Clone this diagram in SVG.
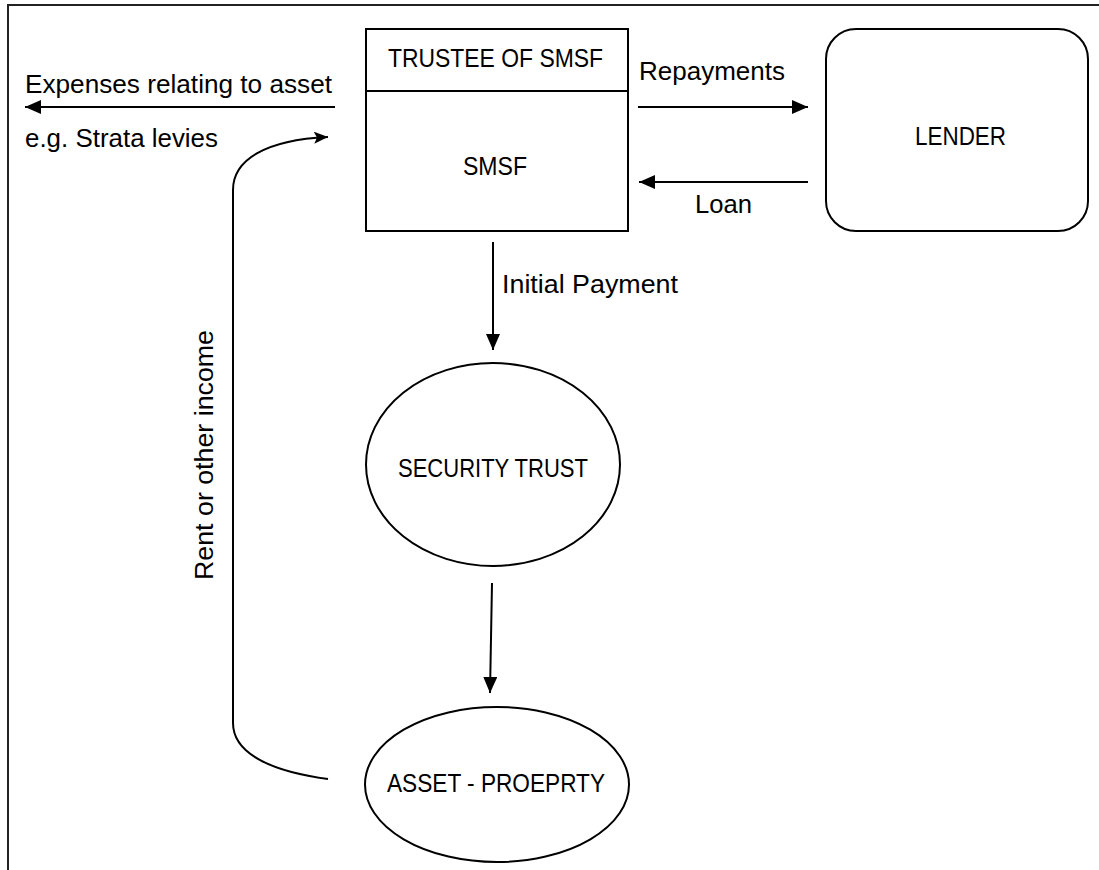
<svg xmlns="http://www.w3.org/2000/svg" width="1099" height="870" viewBox="0 0 1099 870">
<style>
text{font-family:"Liberation Sans",Arial,sans-serif;font-size:25px;fill:#000}
.shape{fill:#fff;stroke:#000;stroke-width:2}
.conn{fill:none;stroke:#000;stroke-width:2}
</style>
<defs>
<marker id="arr" markerWidth="16" markerHeight="14" refX="16" refY="7" orient="auto" markerUnits="userSpaceOnUse">
<path d="M0,0 L16,7 L0,14 Z" fill="#000"/>
</marker>
<marker id="arr2" markerWidth="14" markerHeight="12" refX="14" refY="6" orient="auto" markerUnits="userSpaceOnUse">
<path d="M0,0 L14,6 L0,12 L3,6 Z" fill="#000"/>
</marker>
</defs>
<rect width="1099" height="870" fill="#fff"/>
<g id="frame">
<path d="M8,870 L8,5 L1099,5" fill="none" stroke="#222" stroke-width="2"/>
</g>
<g id="smsf">
<rect class="shape" x="366" y="29" width="262" height="202"/>
<line x1="366" y1="91" x2="628" y2="91" stroke="#000" stroke-width="2"/>
<text x="388" y="67" textLength="215" lengthAdjust="spacingAndGlyphs">TRUSTEE OF SMSF</text>
<text x="463" y="175" textLength="64" lengthAdjust="spacingAndGlyphs">SMSF</text>
</g>
<g id="lender">
<rect class="shape" x="826" y="29" width="262" height="202" rx="30" ry="30"/>
<text x="915" y="145" textLength="91" lengthAdjust="spacingAndGlyphs">LENDER</text>
</g>
<g id="security-trust">
<ellipse class="shape" cx="493" cy="464.5" rx="127" ry="101.5"/>
<text x="398" y="477" textLength="190" lengthAdjust="spacingAndGlyphs">SECURITY TRUST</text>
</g>
<g id="asset">
<ellipse class="shape" cx="497" cy="784.5" rx="132" ry="77.5"/>
<text x="387" y="792" textLength="218" lengthAdjust="spacingAndGlyphs">ASSET - PROEPRTY</text>
</g>
<g id="connectors">
<line class="conn" x1="335" y1="107" x2="25" y2="107" marker-end="url(#arr)"/>
<line class="conn" x1="638" y1="107" x2="808" y2="107" marker-end="url(#arr)"/>
<line class="conn" x1="808" y1="182" x2="639" y2="182" marker-end="url(#arr)"/>
<line class="conn" x1="493" y1="242" x2="493" y2="350" marker-end="url(#arr)"/>
<line class="conn" x1="492" y1="583" x2="490" y2="693" marker-end="url(#arr)"/>
<path class="conn" d="M328,779 C275,772 233,755 233,723 L233,190 C233,160 265,140 328,137" marker-end="url(#arr2)"/>
</g>
<g id="labels">
<text x="25" y="93" textLength="307" lengthAdjust="spacingAndGlyphs">Expenses relating to asset</text>
<text x="25" y="147" textLength="193" lengthAdjust="spacingAndGlyphs">e.g. Strata levies</text>
<text x="639" y="80" textLength="146" lengthAdjust="spacingAndGlyphs">Repayments</text>
<text x="695" y="213" textLength="57" lengthAdjust="spacingAndGlyphs">Loan</text>
<text x="502" y="293" textLength="176" lengthAdjust="spacingAndGlyphs">Initial Payment</text>
<text transform="translate(213,580) rotate(-90)" x="0" y="0" textLength="250" lengthAdjust="spacingAndGlyphs">Rent or other income</text>
</g>
</svg>
